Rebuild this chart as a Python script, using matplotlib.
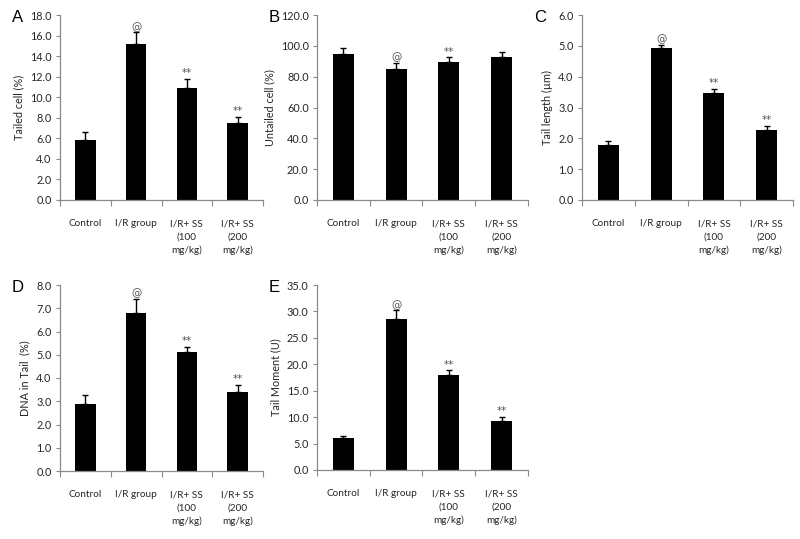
import numpy as np
import matplotlib
matplotlib.use("Agg")
import matplotlib.pyplot as plt

plt.rcParams['font.family'] = ['Lato', 'DejaVu Sans']

# ------------------------------
# Data
# ------------------------------
groups = ["Control", "I/R group", "I/R+ SS\n(100\nmg/kg)", "I/R+ SS\n(200\nmg/kg)"]

tailed_cell = [5.8, 15.2, 10.9, 7.5]
tailed_err = [0.8, 1.1, 0.9, 0.6]

untailed_cell = [94.5, 85.0, 89.5, 92.5]
untailed_err = [3.8, 3.9, 3.0, 3.8]

tail_length = [1.8, 4.92, 3.48, 2.28]
tail_length_err = [0.1, 0.12, 0.12, 0.12]

dna_tail = [2.87, 6.8, 5.1, 3.38]
dna_tail_err = [0.4, 0.6, 0.25, 0.32]

tail_moment = [6.1, 28.6, 18.0, 9.3]
tail_moment_err = [0.4, 1.6, 0.9, 0.8]

marks = ["", "@", "**", "**"]
marks_B = ["", "@", "**", ""]

# panel: letter, values, errors, ylabel, ymax, step, marks, (left, top, right, bottom) px
panels = [
    ("A", tailed_cell, tailed_err, "Tailed cell (%)", 18.0, 2.0, marks, (60, 15, 263, 200)),
    ("B", untailed_cell, untailed_err, "Untailed cell (%)", 120.0, 20.0, marks_B, (317, 15, 528, 200)),
    ("C", tail_length, tail_length_err, "Tail length (µm)", 6.0, 1.0, marks, (582, 15, 793, 200)),
    ("D", dna_tail, dna_tail_err, "DNA in Tail  (%)", 8.0, 1.0, marks, (60, 285, 263, 471)),
    ("E", tail_moment, tail_moment_err, "Tail Moment (U)", 35.0, 5.0, marks, (317, 285, 528, 470)),
]

W, H = 800, 539
fig = plt.figure(figsize=(W / 100, H / 100), dpi=100)

spine_col = "#8a8a8a"
text_col = "#262626"

for letter, vals, errs, ylab, ymax, step, mk, (l, t, r, b) in panels:
    ax = fig.add_axes([l / W, 1 - b / H, (r - l) / W, (b - t) / H])
    x = np.arange(len(vals))
    ax.bar(x, vals, width=0.4, color="black", zorder=2)
    ax.errorbar(x, vals, yerr=[np.zeros(len(vals)), errs], fmt="none",
                ecolor="black", elinewidth=1.0, capsize=2.5, capthick=1.0, zorder=3)
    for xi, v, e, m in zip(x, vals, errs, mk):
        if m:
            ax.text(xi, v + e + ymax * 0.003, m, ha="center", va="bottom",
                    fontsize=7.5, color="#555555", family="DejaVu Sans")
    ax.set_xlim(-0.5, len(vals) - 0.5)
    ax.set_ylim(0, ymax)
    ax.set_yticks(np.arange(0, ymax + step / 2, step))
    ax.set_yticklabels([f"{v:.1f}" for v in np.arange(0, ymax + step / 2, step)])
    # x ticks sit at category boundaries, labels at centers
    ax.set_xticks(np.arange(-0.5, len(vals), 1.0))
    ax.set_xticklabels([])
    ax.set_xticks(x, minor=True)
    ax.set_xticklabels(groups, minor=True, fontsize=7.2, color=text_col, linespacing=1.55,
                       va="top")
    ax.tick_params(axis="x", which="minor", length=0, pad=14)
    ax.tick_params(axis="x", which="major", length=4, color=spine_col, direction="out")
    ax.tick_params(axis="y", length=3, color=spine_col, labelsize=7.8,
                   labelcolor=text_col, pad=3)
    for s in ["top", "right"]:
        ax.spines[s].set_visible(False)
    for s in ["left", "bottom"]:
        ax.spines[s].set_color(spine_col)
        ax.spines[s].set_linewidth(0.9)
    ax.set_ylabel(ylab, fontsize=7.8, color=text_col, labelpad=4)
    fig.text((l - 48) / W, 1 - (t + 2) / H, letter, fontsize=12,
             family="Liberation Sans", ha="left", va="center", color="black")

fig.savefig("out.png", dpi=100)
